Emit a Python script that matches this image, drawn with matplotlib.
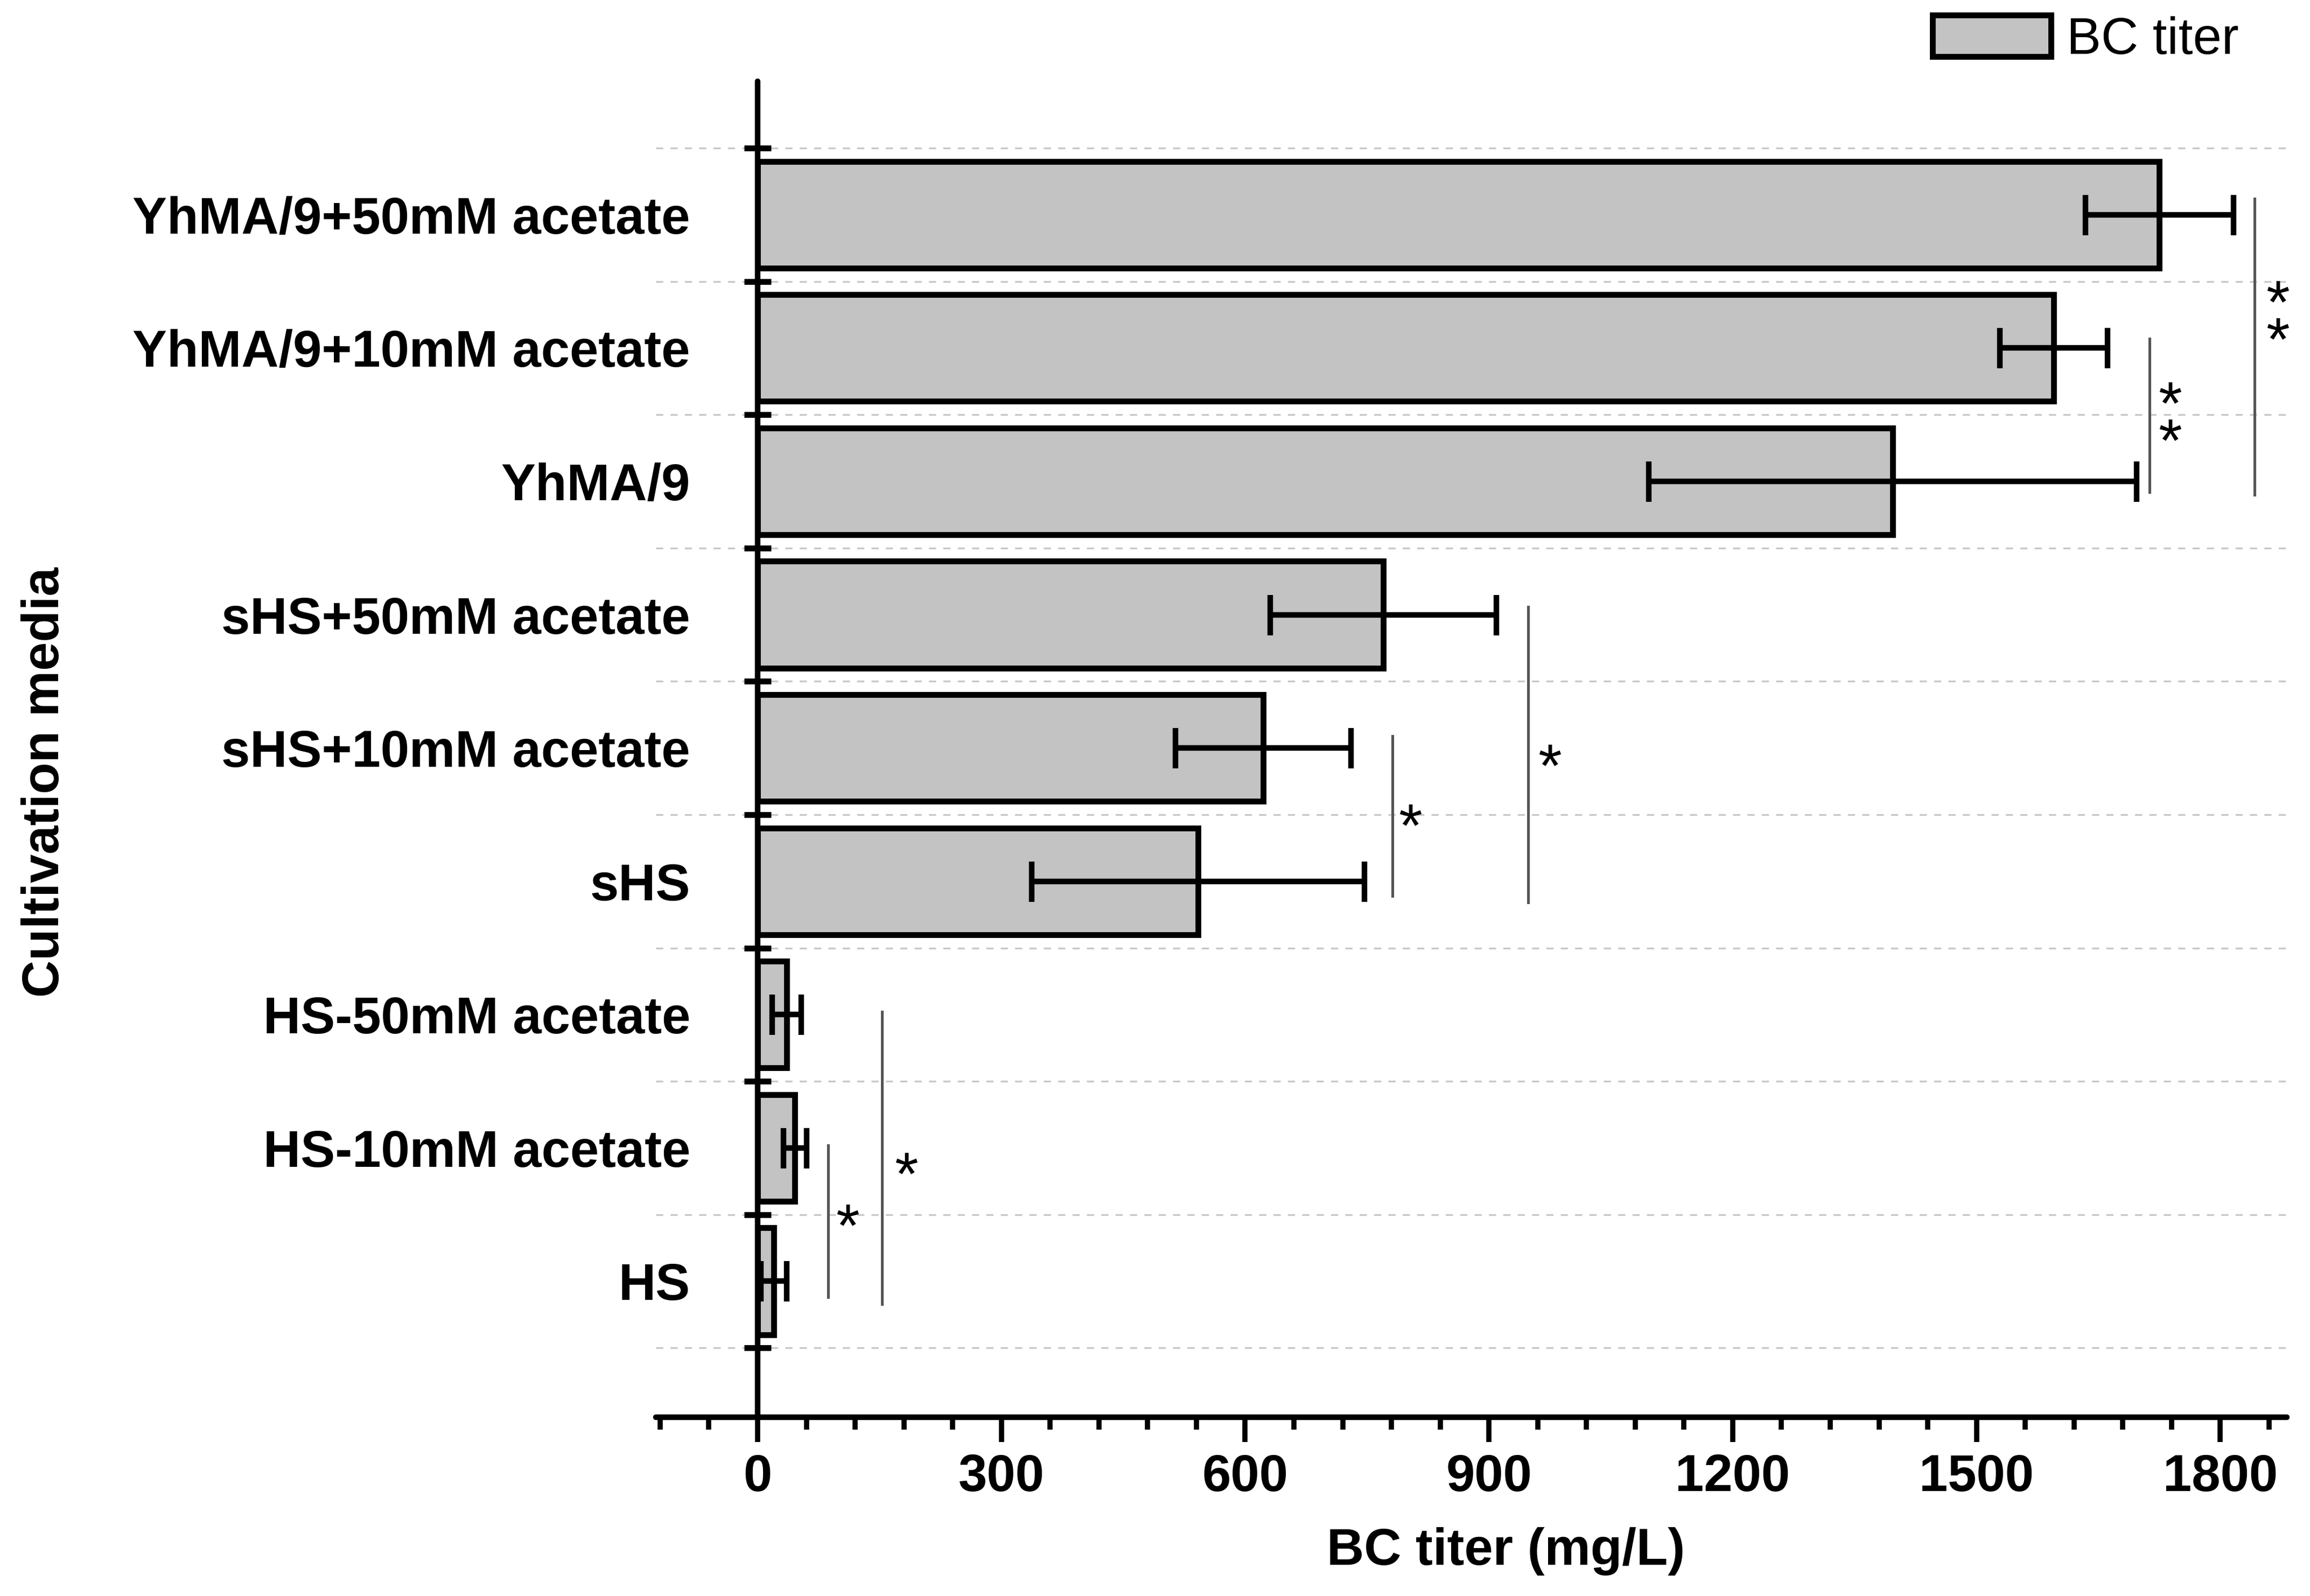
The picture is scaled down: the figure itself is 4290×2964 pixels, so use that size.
import matplotlib
matplotlib.use("Agg")
import matplotlib.pyplot as plt
from matplotlib.ticker import FixedLocator, MultipleLocator
import numpy as np

plt.rcParams['font.family'] = ['Liberation Sans', 'DejaVu Sans']

# ---- data (bottom to top) ----
categories = ["HS", "HS-10mM acetate", "HS-50mM acetate",
              "sHS", "sHS+10mM acetate", "sHS+50mM acetate",
              "YhMA/9", "YhMA/9+10mM acetate", "YhMA/9+50mM acetate"]
titer = [20, 46, 36, 542, 622, 770, 1397, 1595, 1725]
titer_err = [16, 14, 18, 205, 108, 139, 300, 66, 91]
xticks = [0, 300, 600, 900, 1200, 1500, 1800]

# significance brackets: line x, line y start/end, star x, star centre y, star label
sig_x = [1842, 1713, 781, 948, 87, 153]
sig_y0 = [8.12, 7.07, 4.09, 5.06, 1.02, 2.02]
sig_y1 = [5.90, 5.92, 2.89, 2.84, -0.12, -0.17]
star_x = [1871, 1738, 803, 975, 111, 183]
star_y = [7.29, 6.53, 3.50, 3.95, 0.50, 0.89]
star_txt = ["*\n*", "*\n*", "*", "*", "*", "*"]

fig = plt.figure(figsize=(14.3, 9.88), dpi=300)
ax = fig.add_axes([0.284, 0.112, 0.706, 0.837])

y = np.arange(len(categories))
bars = ax.barh(y, titer, height=0.8, color='#c3c3c3', edgecolor='black',
               linewidth=2.6, label='BC titer', zorder=3)
ax.errorbar(titer, y, xerr=titer_err, fmt='none', ecolor='black',
            elinewidth=2.5, capsize=9, capthick=2.5, zorder=4)

ax.set_xlim(-125, 1882)
ax.set_ylim(-1.02, 9.0)

# spines
for s in ['top', 'right']:
    ax.spines[s].set_visible(False)
ax.spines['left'].set_position(('data', 0))
ax.spines['left'].set_linewidth(2.5)
ax.spines['bottom'].set_linewidth(2.5)
ax.spines['left'].set_capstyle('round')
ax.spines['bottom'].set_capstyle('round')

# y ticks
ax.set_yticks(y)
ax.set_yticklabels(categories, fontsize=23, fontweight='bold')
ax.tick_params(axis='y', which='major', length=0, pad=30)
ax.yaxis.set_minor_locator(FixedLocator(np.arange(-0.5, len(categories) + 0.5, 1.0)))
ax.tick_params(axis='y', which='minor', direction='inout', length=12, width=2.6)
ax.yaxis.grid(True, which='minor', linestyle=(0, (4, 4)), color='#c8c8c8', linewidth=0.8)
ax.set_axisbelow(True)

# x ticks
ax.set_xticks(xticks)
ax.set_xticklabels([str(v) for v in xticks], fontsize=23, fontweight='bold')
ax.xaxis.set_minor_locator(MultipleLocator(60))
ax.tick_params(axis='x', which='major', direction='out', length=11, width=2.3, pad=5)
ax.tick_params(axis='x', which='minor', direction='out', length=5.5, width=2.3)

# significance lines and stars
for i in range(len(sig_x)):
    ax.plot([sig_x[i], sig_x[i]], [sig_y0[i], sig_y1[i]], color='#555555',
            linewidth=1.2, zorder=2, clip_on=False)
    ax.text(star_x[i], star_y[i] - 0.12, star_txt[i], fontsize=27, ha='center',
            va='center', color='black', linespacing=0.55, clip_on=False)

fig.text(0.652, 0.028, 'BC titer (mg/L)', fontsize=23, fontweight='bold',
         ha='center', va='center')
fig.text(0.0195, 0.51, 'Cultivation media', fontsize=23, fontweight='bold',
         ha='center', va='center', rotation=90)

fig.legend(handles=[bars], labels=['BC titer'], loc='center left',
           bbox_to_anchor=(0.8365, 0.975), borderpad=0, borderaxespad=0,
           frameon=False, fontsize=23, handlelength=2.3, handleheight=0.86,
           handletextpad=0.3)

fig.savefig('out.png', dpi=300)
